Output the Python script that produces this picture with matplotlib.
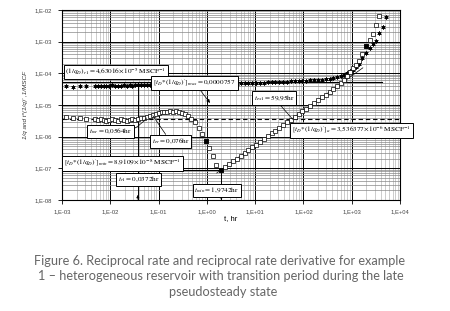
import numpy as np
import matplotlib
matplotlib.use("Agg")
import matplotlib.pyplot as plt
from matplotlib.ticker import LogLocator, NullFormatter

# ---------------- data ----------------
t_hr = [0.00120, 0.00170, 0.00234, 0.00316, 0.00479,
        0.00550, 0.00631, 0.00724, 0.00832, 0.00955, 0.0110, 0.0126, 0.0145,
        0.0166, 0.0191, 0.0219, 0.0251, 0.0288, 0.0331, 0.0380,
        0.0437, 0.0501, 0.0575, 0.0661, 0.0759, 0.0871, 0.100, 0.115, 0.132,
        0.151, 0.174, 0.200, 0.229, 0.263, 0.302, 0.347, 0.398,
        0.479, 0.562, 0.676, 0.794, 0.955, 1.12, 1.32, 1.58, 1.97,
        2.40, 2.88, 3.47, 4.17, 5.01, 6.03, 7.24, 8.71, 10.5, 12.6, 15.1,
        18.2, 21.9, 26.3, 31.6, 38.0, 45.7, 55.0, 66.1, 79.4, 95.5, 115,
        138, 166, 200, 240, 288, 347, 417, 501, 603,
        708, 813, 933, 1072, 1230, 1413, 1660, 1995, 2344, 2754, 3236,
        3715, 4365, 5012]

# reciprocal rate 1/q (stars)
recip_rate = [4.01e-5, 3.72e-5, 3.86e-5, 4.01e-5, 4.01e-5,
              4.01e-5, 4.08e-5, 4.01e-5, 4.08e-5, 4.01e-5, 4.15e-5, 4.08e-5, 4.01e-5,
              4.08e-5, 4.15e-5, 4.08e-5, 4.15e-5, 4.08e-5, 4.15e-5, 4.15e-5,
              4.15e-5, 4.15e-5, 4.20e-5, 4.15e-5, 4.20e-5, 4.20e-5, 4.25e-5, 4.20e-5,
              4.25e-5, 4.25e-5, 4.30e-5, 4.25e-5, 4.30e-5, 4.30e-5, 4.30e-5, 4.35e-5,
              4.30e-5,
              4.35e-5, 4.35e-5, 4.40e-5, 4.40e-5, 4.45e-5, 4.45e-5, 4.50e-5, 4.50e-5,
              4.55e-5,
              4.60e-5, 4.65e-5, 4.70e-5, 4.75e-5, 4.80e-5, 4.85e-5, 4.90e-5, 4.95e-5,
              5.00e-5, 5.05e-5, 5.10e-5, 5.20e-5, 5.25e-5, 5.30e-5, 5.40e-5, 5.45e-5,
              5.50e-5, 5.60e-5, 5.65e-5, 5.75e-5, 5.80e-5, 5.90e-5, 6.00e-5, 6.10e-5,
              6.20e-5, 6.35e-5, 6.50e-5, 6.70e-5, 7.00e-5, 7.50e-5, 8.20e-5,
              9.0e-5, 1.0e-4, 1.15e-4, 1.32e-4, 1.55e-4, 2.0e-4, 3.0e-4, 4.5e-4,
              6.5e-4, 8.5e-4, 1.05e-3, 1.88e-3, 2.9e-3, 6.0e-3]

# reciprocal rate derivative t*(1/q)' (open squares)
recip_deriv = [4.22e-6, 3.92e-6, 3.92e-6, 3.65e-6, 3.65e-6,
               3.39e-6, 3.65e-6, 3.39e-6, 3.15e-6, 3.39e-6, 3.65e-6, 3.39e-6, 3.15e-6,
               3.65e-6, 3.39e-6, 3.15e-6, 3.39e-6, 3.65e-6, 3.39e-6, 3.65e-6,
               3.92e-6, 3.92e-6, 4.22e-6, 4.53e-6, 4.87e-6, 5.24e-6, 5.64e-6, 5.85e-6,
               6.06e-6, 6.06e-6, 6.30e-6, 6.06e-6, 6.30e-6, 6.06e-6, 5.64e-6, 5.24e-6,
               4.53e-6,
               3.65e-6, 2.93e-6, 1.90e-6, 1.23e-6, 7.38e-7, 4.43e-7, 2.48e-7, 1.29e-7,
               8.91e-8,
               1.11e-7, 1.36e-7, 1.67e-7, 2.04e-7, 2.50e-7, 3.05e-7, 3.74e-7, 4.58e-7,
               5.60e-7, 6.86e-7, 8.39e-7, 1.03e-6, 1.26e-6, 1.54e-6, 1.88e-6, 2.31e-6,
               2.82e-6, 3.45e-6, 4.23e-6, 5.18e-6, 6.33e-6, 7.75e-6, 9.48e-6, 1.16e-5,
               1.42e-5, 1.74e-5, 2.13e-5, 2.61e-5, 3.19e-5, 3.90e-5, 4.78e-5,
               5.97e-5, 8.28e-5, 1.11e-4, 1.48e-4, 1.84e-4, 2.46e-4, 4.09e-4, 7.32e-4,
               1.13e-3, 1.75e-3, 3.36e-3, 6.47e-3, np.nan, np.nan]

filled_idx = [41, 45, 84]           # points drawn as filled squares

# reference levels / times
rate_level = 5.4e-5                # horizontal solid line through 1/q
deriv_a = 3.536377e-6              # dashed level
deriv_min = 8.9109e-8
t_r1 = 0.0372
t_min = 1.9742
t_mr = 0.0564
t_er = 0.076
t_ex1 = 59.95
rate_line_end = 4200
fit_t = [1.6, 1700]
fit_v = [7.1e-8, 1.49e-4]
max_arrow_target = (1.16, 1.16e-5)

x_ticks = [1e-3, 1e-2, 1e-1, 1e0, 1e1, 1e2, 1e3, 1e4]
x_tick_labels = ["1,E-03", "1,E-02", "1,E-01", "1,E+00", "1,E+01", "1,E+02", "1,E+03", "1,E+04"]
y_ticks = [1e-8, 1e-7, 1e-6, 1e-5, 1e-4, 1e-3, 1e-2]
y_tick_labels = ["1,E-08", "1,E-07", "1,E-06", "1,E-05", "1,E-04", "1,E-03", "1,E-02"]

caption = ["Figure 6. Reciprocal rate and reciprocal rate derivative for example",
           "1 \u2013 heterogeneous reservoir with transition period during the late",
           "pseudosteady state"]

# ---------------- figure ----------------
plt.rcParams['mathtext.fontset'] = 'stix'
plt.rcParams['font.family'] = ['Liberation Sans', 'DejaVu Sans']

fig = plt.figure(figsize=(4.5, 3.11), dpi=100)
ax = fig.add_axes([62/450, 1-200/311, 338/450, 190/311])
ax.set_xscale('log')
ax.set_yscale('log')
ax.set_xlim(1e-3, 1e4)
ax.set_ylim(1e-8, 1e-2)

ax.xaxis.set_minor_locator(LogLocator(base=10, subs=np.arange(2, 10), numticks=50))
ax.yaxis.set_minor_locator(LogLocator(base=10, subs=np.arange(2, 10), numticks=50))
ax.xaxis.set_minor_formatter(NullFormatter())
ax.yaxis.set_minor_formatter(NullFormatter())
ax.set_xticks(x_ticks, x_tick_labels)
ax.set_yticks(y_ticks, y_tick_labels)
ax.tick_params(which='major', labelsize=4.2, labelcolor='#444', length=3, width=0.6, pad=4)
ax.tick_params(which='minor', length=0)

ax.xaxis.grid(True, which='major', color='black', lw=0.7)
ax.yaxis.grid(True, which='major', color='black', lw=0.7)
ax.xaxis.grid(True, which='minor', color='#b0b0b0', lw=0.45)
ax.yaxis.grid(True, which='minor', color='#888888', lw=0.5)
ax.set_axisbelow(True)
for s in ax.spines.values():
    s.set_linewidth(0.8)

# reference lines
ax.axhline(deriv_a, color='black', lw=0.8, dashes=(4, 2.5), zorder=2)
ax.plot([1e-3, rate_line_end], [rate_level, rate_level], color='black', lw=0.8, zorder=2)
ax.plot([1e-3, t_min], [deriv_min, deriv_min], color='black', lw=0.8, zorder=2)
ax.plot([t_r1, t_r1], [rate_level, 1e-8], color='black', lw=0.7, zorder=2)
ax.plot([t_min, t_min], [deriv_min, 1e-8], color='black', lw=0.7, zorder=2)
for tt in (t_r1, t_min):
    ax.annotate('', xy=(tt, 1.45e-8), xytext=(tt, 1.05e-8),
                arrowprops=dict(arrowstyle='-|>', lw=0.5, color='black',
                                mutation_scale=4, shrinkA=0, shrinkB=0))
ax.plot(fit_t, fit_v, color='black', lw=0.5, zorder=2)

# data
t = np.array(t_hr)
r = np.array(recip_rate)
d = np.array(recip_deriv)
ax.plot(t, r, ls='none', marker=(6, 2, 0), ms=3.0, mew=0.5, color='black', zorder=3)
ax.plot(t, d, ls='none', marker='s', ms=2.4, mew=0.5, mfc='white', mec='black', zorder=4)
ax.plot(t[filled_idx], d[filled_idx], ls='none', marker='s', ms=2.4, mew=0.5,
        mfc='black', mec='black', zorder=5)

# annotation boxes
bbox = dict(boxstyle='square,pad=0.25', fc='white', ec='black', lw=0.7)
fs = 5.2
def box(txt, x, y, xy=None, style='-', conn='arc3'):
    if xy is None:
        ax.text(x, y, txt, transform=ax.transAxes, fontsize=fs, ha='left', va='center',
                bbox=bbox, zorder=6, clip_on=False)
    else:
        ax.annotate(txt, xy=xy, xycoords='data', xytext=(x, y), textcoords='axes fraction',
                    fontsize=fs, ha='left', va='center', bbox=bbox, zorder=6,
                    arrowprops=dict(arrowstyle=style, lw=0.5, color='black',
                                    mutation_scale=5, connectionstyle=conn,
                                    shrinkA=0, shrinkB=0))

box(r"$(1/q_D)_{r1} = 4{,}63016\!\times\!10^{-5}\ \mathrm{MSCF}^{-1}$", 0.01, 0.672)
box(r"$[t_D{*}(1/q_D)']_{max} = 0{,}0000757$", 0.27, 0.617, xy=max_arrow_target, style='-|>')
box(r"$t_{mr} = 0{,}0564\mathrm{hr}$", 0.08, 0.361, xy=(t_mr, 3.9e-6), style='-', conn='arc3,rad=0.3')
box(r"$t_{er} = 0{,}076\mathrm{hr}$", 0.265, 0.308, xy=(t_er, 4.6e-6))
box(r"$[t_D{*}(1/q_D)']_{min} = 8{,}9109\!\times\!10^{-8}\ \mathrm{MSCF}^{-1}$", 0.006, 0.192)
box(r"$t_{r1} = 0{,}0372\mathrm{hr}$", 0.165, 0.108)
box(r"$t_{min} = 1{,}9742\mathrm{hr}$", 0.392, 0.05)
box(r"$t_{ex1} = 59{,}95\mathrm{hr}$", 0.567, 0.537, xy=(t_ex1, deriv_a))
box(r"$[t_D{*}(1/q_D)']_a = 3{,}536377\!\times\!10^{-6}\ \mathrm{MSCF}^{-1}$", 0.68, 0.366)

# axis labels
ax.set_xlabel("t, hr", fontsize=5.5, labelpad=2)
ax.xaxis.set_label_coords(0.5, -0.08)
ax.set_ylabel("1/q and t*(1/q)' ,1/MSCF", fontsize=4.6, style='italic', color='#333')
ax.yaxis.set_label_coords(-0.1, 0.5)

# caption
cap_kw = dict(ha='center', va='center', fontsize=9.2, color='#666666',
              family=['Lato', 'DejaVu Sans'])
fig.text(220/450, 1-261/311, caption[0], **cap_kw)
fig.text(221/450, 1-276/311, caption[1], **cap_kw)
fig.text(223/450, 1-292/311, caption[2], **cap_kw)

fig.savefig("out.png", dpi=100)
